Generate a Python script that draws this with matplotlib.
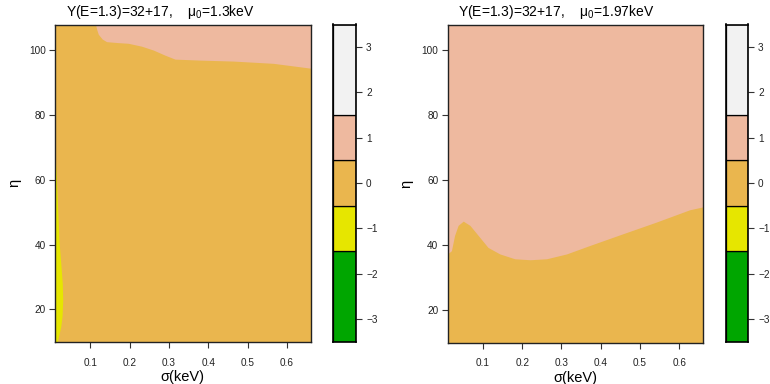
import matplotlib
matplotlib.use("Agg")
import matplotlib.pyplot as plt

plt.rcParams['font.family'] = ['Liberation Sans', 'DejaVu Sans']
plt.rcParams['mathtext.fontset'] = 'custom'
plt.rcParams['mathtext.rm'] = 'Liberation Sans'
plt.rcParams['mathtext.default'] = 'regular'

# key levels and colours (terrain.colors(5))
key_bottoms = [-3.5, -1.5, -0.5, 0.5, 1.5]
key_tops = [-1.5, -0.5, 0.5, 1.5, 3.5]
key_cols = ['#00A600', '#E6E600', '#EAB64E', '#EEB99F', '#F2F2F2']
key_ticks = [-3, -2, -1, 0, 1, 2, 3]

sig_range = (0.01, 0.66)
eta_range = (10, 108)

# left panel: boundary of the pink (level 1) region
left_pink_sig = [0.113, 0.116, 0.120, 0.130, 0.141, 0.170, 0.196, 0.230, 0.260,
                 0.290, 0.315, 0.379, 0.463, 0.565, 0.66]
left_pink_eta = [108.0, 106.5, 105.0, 103.5, 102.7, 102.4, 102.2, 101.3, 100.1,
                 98.5, 97.3, 97.0, 96.7, 96.0, 94.5]
# left panel: boundary of the yellow (level -1) strip near sigma=0.01
left_yel_eta = [10.0, 14.6, 18.0, 22.9, 28.0, 33.2, 41.4, 53.8, 62.0, 68.2]
left_yel_sig = [0.0159, 0.0245, 0.0280, 0.0296, 0.0285, 0.0253, 0.020, 0.0159, 0.0130, 0.0100]

# right panel: lower boundary of the pink region
right_pink_sig = [0.01, 0.02, 0.028, 0.037, 0.05, 0.067, 0.088, 0.113, 0.143, 0.181,
                  0.220, 0.262, 0.313, 0.372, 0.456, 0.541, 0.626, 0.66]
right_pink_eta = [37.3, 38.3, 43.0, 46.1, 47.4, 46.1, 43.0, 39.3, 37.3, 35.8,
                  35.5, 35.8, 37.3, 39.9, 43.5, 47.1, 50.9, 51.8]

titles = ['Y(E=1.3)=32+17,    μ$_0$=1.3keV', 'Y(E=1.3)=32+17,    μ$_0$=1.97keV']

W, H = 770, 384
fig = plt.figure(figsize=(W / 100, H / 100), dpi=100)


def px_axes(x0, x1, ytop, ybot):
    return fig.add_axes([x0 / W, 1 - ybot / H, (x1 - x0) / W, (ybot - ytop) / H])


def style(ax):
    ax.tick_params(direction='out', length=4.5, width=0.8, labelsize=7.2,
                   color='#333333', labelcolor='#222222')
    for s in ax.spines.values():
        s.set_linewidth(1.0)
        s.set_color('#222222')


def key(ax):
    ax.bar([0.5] * 5, [t - b for t, b in zip(key_tops, key_bottoms)], bottom=key_bottoms,
           width=1.0, color=key_cols, edgecolor='black', linewidth=0.9)
    ax.set_xlim(0, 1)
    ax.set_ylim(-3.5, 3.5)
    ax.set_xticks([])
    ax.yaxis.tick_right()
    ax.set_yticks(key_ticks)
    style(ax)
    ax.tick_params(axis='y', pad=3)
    for s in ax.spines.values():
        s.set_linewidth(1.2)
        s.set_color('black')


def panel(ax):
    ax.set_facecolor('#EAB64E')
    ax.set_xlim(*sig_range)
    ax.set_ylim(*eta_range)
    ax.set_xticks([0.1, 0.2, 0.3, 0.4, 0.5, 0.6])
    ax.set_yticks([20, 40, 60, 80, 100])
    style(ax)
    ax.tick_params(axis='x', pad=7)
    ax.tick_params(axis='y', pad=2)
    ax.set_xlabel('σ(keV)', fontsize=10.5, labelpad=2)
    ax.set_ylabel('η', fontsize=10.5, labelpad=6)


# left panel
ax1 = px_axes(55, 310.7, 24.5, 341.7)
panel(ax1)
ax1.fill_between(left_pink_sig, left_pink_eta, eta_range[1], color='#EEB99F', lw=0)
ax1.fill_betweenx(left_yel_eta, sig_range[0], left_yel_sig, color='#E6E600', lw=0)
fig.text(66 / W, 1 - 12 / H, titles[0], fontsize=10, va='center', ha='left')

k1 = px_axes(333, 355.7, 24.5, 341.7)
key(k1)

# right panel
ax2 = px_axes(447.5, 703, 24.5, 342.5)
panel(ax2)
ax2.fill_between(right_pink_sig, right_pink_eta, eta_range[1], color='#EEB99F', lw=0)
fig.text(458 / W, 1 - 12 / H, titles[1], fontsize=10, va='center', ha='left')

k2 = px_axes(725.7, 747.7, 24.5, 341.7)
key(k2)

fig.savefig('out.png', dpi=100)
